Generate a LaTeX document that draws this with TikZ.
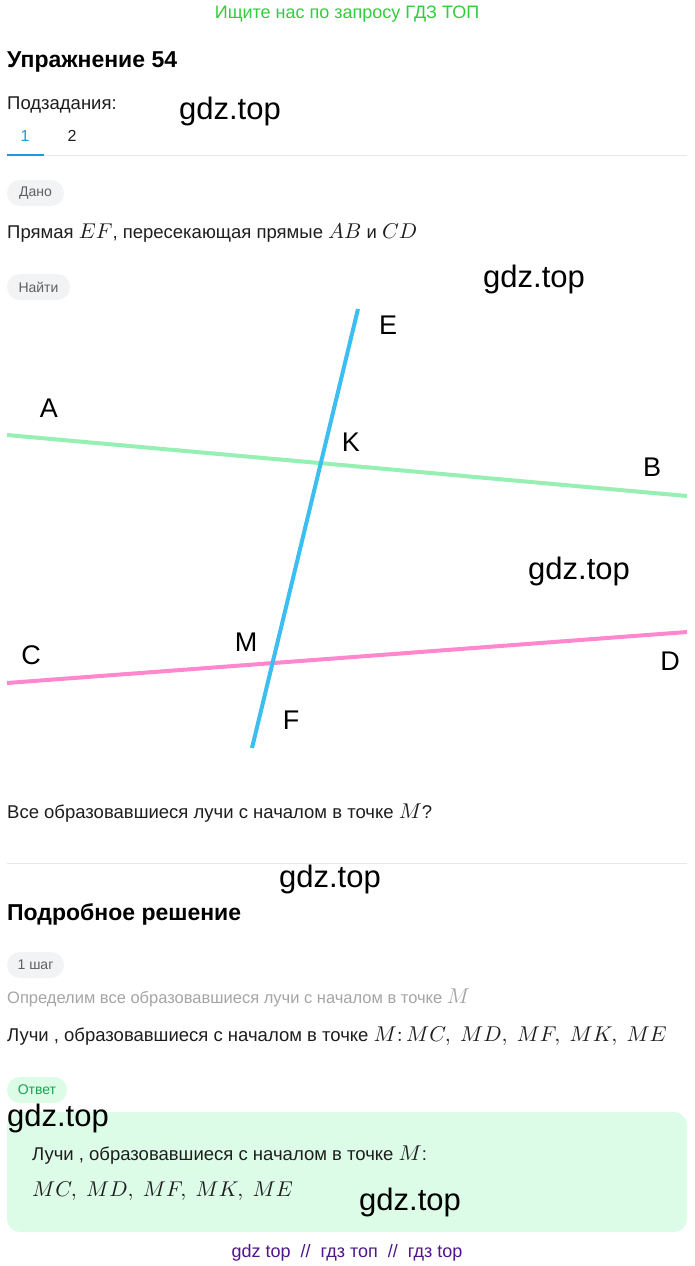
\documentclass[tikz,border=0pt]{standalone}
\usepackage{fontspec}
\setmainfont{Liberation Sans}
\newfontfamily\wmfont{Liberation Sans}
\DeclareFontShape{OML}{cmm}{m}{it}{<->cmmi10}{}
\DeclareFontShape{OT1}{cmr}{m}{n}{<->cmr10}{}
\definecolor{topgreen}{RGB}{50,205,60}
\definecolor{tabblue}{RGB}{30,155,215}
\definecolor{linegreen}{RGB}{150,240,180}
\definecolor{lineblue}{RGB}{60,190,240}
\definecolor{linepink}{RGB}{255,135,205}
\definecolor{boxgreen}{RGB}{220,252,232}
\definecolor{anstext}{RGB}{30,160,80}
\definecolor{footpurple}{RGB}{80,20,140}
\definecolor{pillgray}{RGB}{242,243,245}
\definecolor{pilltext}{RGB}{95,95,95}
\definecolor{sepgray}{RGB}{232,232,232}
\definecolor{stepgray}{RGB}{165,165,165}
\definecolor{bodytext}{RGB}{30,30,30}
\newcommand{\mfont}{\fontsize{21.4}{24}\selectfont}
\tikzset{
  body/.style={anchor=base west, inner sep=0pt, text=bodytext, font=\fontsize{18.5}{22}\selectfont},
  heading/.style={anchor=base west, inner sep=0pt, text=black, font=\fontsize{23}{27}\selectfont\bfseries},
  pill/.style={rounded corners=13pt, fill=pillgray, text=pilltext, inner sep=0pt,
    minimum height=26pt, font=\fontsize{14}{16}\selectfont},
  wm/.style={inner sep=0pt, text=black, font=\wmfont\fontsize{31}{35}\selectfont},
  ptlabel/.style={inner sep=0pt, text=black, font=\fontsize{27}{30}\selectfont},
  geoline/.style={line width=4pt},
  sep/.style={draw=sepgray, line width=1pt}
}
\begin{document}
\begin{tikzpicture}[x=1pt,y=-1pt]
\useasboundingbox[fill=white] (0,0) rectangle (694,1266);
% top banner
\node[inner sep=0pt, text=topgreen, font=\fontsize{18}{21}\selectfont, anchor=base] (banner) at (347,18) {Ищите нас по запросу ГДЗ ТОП};
\node[heading] (title) at (7,67) {Упражнение 54};
\node[body] (sub) at (7,109) {Подзадания:};
\node[anchor=base, inner sep=0pt, text=tabblue, font=\fontsize{16}{18}\selectfont] (tab1) at (25,141) {1};
\node[anchor=base, inner sep=0pt, text=bodytext, font=\fontsize{16}{18}\selectfont] (tab2) at (72,141) {2};
\coordinate (sepL) at (7,155);
\coordinate (sepM) at (44,155);
\coordinate (sepR) at (687,155);
\draw[sep] (sepM) -- (sepR);
\draw[tabblue, line width=2.5pt] (sepL) -- (sepM);
% given
\node[pill, minimum width=57pt] (dano) at (35.5,193) {Дано};
\node[body] (given) at (7,238) {Прямая {\mfont$EF$}, пересекающая прямые {\mfont$AB$} и {\mfont$CD$}};
\node[pill, minimum width=63pt] (najti) at (38.5,287) {Найти};
% figure
\coordinate (gA) at (7,435);
\coordinate (gB) at (687,496);
\coordinate (pC) at (7,683);
\coordinate (pD) at (687,632);
\coordinate (bE) at (358,309);
\coordinate (bF) at (252,748);
\draw[geoline, linegreen] (gA) -- (gB);
\draw[geoline, linepink] (pC) -- (pD);
\draw[geoline, lineblue] (bE) -- (bF);
\node[ptlabel] (lE) at (388,325) {E};
\node[ptlabel] (lA) at (49,408) {A};
\node[ptlabel] (lK) at (351,442) {K};
\node[ptlabel] (lB) at (652,467) {B};
\node[ptlabel] (lC) at (31,655) {C};
\node[ptlabel] (lM) at (246,642) {M};
\node[ptlabel] (lD) at (670,661) {D};
\node[ptlabel] (lF) at (291,720) {F};
% question
\node[body] (quest) at (7,818) {Все образовавшиеся лучи с началом в точке {\mfont$M$}?};
\coordinate (sep2L) at (7,863);
\coordinate (sep2R) at (687,863);
\draw[sep] (sep2L) -- (sep2R);
% solution
\node[heading] (soltitle) at (7,920) {Подробное решение};
\node[pill, minimum width=57pt] (step) at (35.5,965) {1 шаг};
\node[body, text=stepgray, font=\fontsize{16.5}{20}\selectfont] (stepdesc) at (7,1003) {Определим все образовавшиеся лучи с началом в точке {\mfont$M$}};
\node[body] (stepres) at (7,1041) {Лучи , образовавшиеся с началом в точке {\mfont$M\mathpunct{:}MC,\ MD,\ MF,\ MK,\ ME$}};
% answer
\node[pill, minimum width=60pt, fill=boxgreen, text=anstext] (otvet) at (37,1090) {Ответ};
\path[fill=boxgreen, rounded corners=13pt] (7,1112) rectangle (687,1232);
\node[body] (ans1) at (32,1160) {Лучи , образовавшиеся с началом в точке {\mfont$M$}:};
\node[body] (ans2) at (32,1196) {\mfont$MC,\ MD,\ MF,\ MK,\ ME$};
% footer
\node[anchor=base, inner sep=0pt, text=footpurple, font=\fontsize{18}{21}\selectfont] (footer) at (347,1257) {gdz top \ // \ гдз топ \ // \ гдз top};
% watermarks
\node[wm] (w1) at (230,111) {gdz.top};
\node[wm] (w2) at (534,279) {gdz.top};
\node[wm] (w3) at (579,571) {gdz.top};
\node[wm] (w4) at (330,879) {gdz.top};
\node[wm] (w5) at (58,1118) {gdz.top};
\node[wm] (w6) at (410,1202) {gdz.top};
\end{tikzpicture}
\end{document}
